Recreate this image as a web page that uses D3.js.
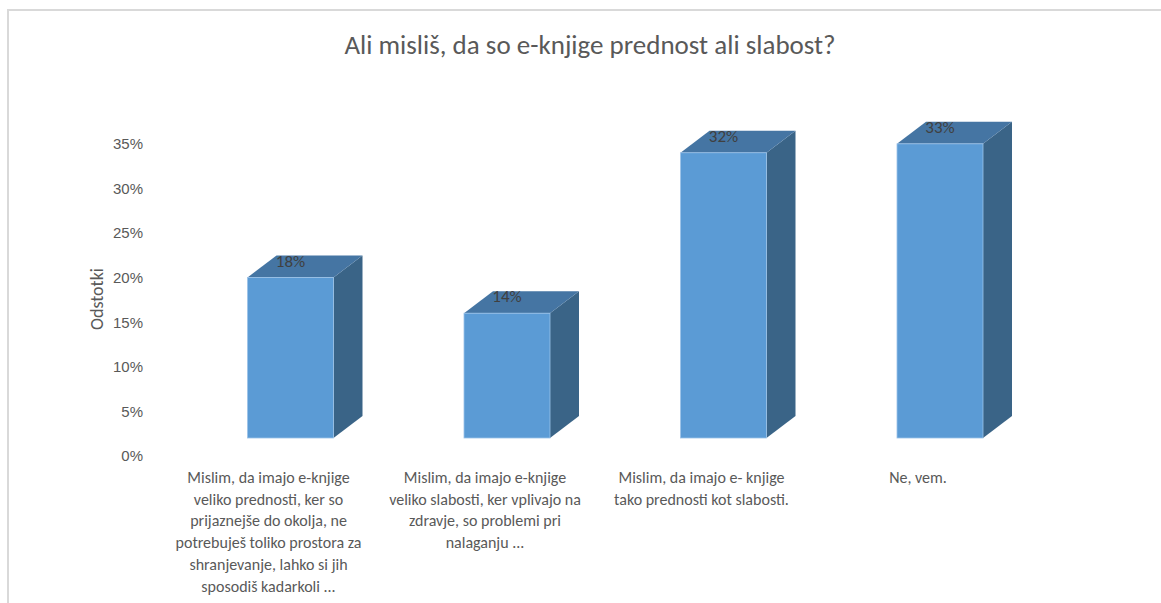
<!DOCTYPE html>
<html>
<head>
<meta charset="utf-8">
<script src="https://cdn.jsdelivr.net/npm/d3@7"></script>
<style>
  html, body { margin: 0; padding: 0; background: #fff; }
  svg { display: block; font-family: Carlito, Calibri, "Open Sans", sans-serif; }
</style>
</head>
<body>
<div id="chart"></div>
<script>
const title = 'Ali misliš, da so e-knjige prednost ali slabost?';
const yTitle = 'Odstotki';

const categories = [
  'Mislim, da imajo e-knjige veliko prednosti, ker so prijaznejše do okolja, ne potrebuješ toliko prostora za shranjevanje, lahko si jih sposodiš kadarkoli ...',
  'Mislim, da imajo e-knjige veliko slabosti, ker vplivajo na zdravje, so problemi pri nalaganju ...',
  'Mislim, da imajo e- knjige tako prednosti kot slabosti.',
  'Ne, vem.'
];
// label lines as wrapped in the picture
const categoryLines = [
  ['Mislim, da imajo e-knjige', 'veliko prednosti, ker so', 'prijaznejše do okolja, ne', 'potrebuješ toliko prostora za', 'shranjevanje, lahko si jih', 'sposodiš kadarkoli ...'],
  ['Mislim, da imajo e-knjige', 'veliko slabosti, ker vplivajo na', 'zdravje, so problemi pri', 'nalaganju ...'],
  ['Mislim, da imajo e- knjige', 'tako prednosti kot slabosti.'],
  ['Ne, vem.']
];
const values = [0.18, 0.14, 0.32, 0.33];
const yTicks = [0, 0.05, 0.10, 0.15, 0.20, 0.25, 0.30, 0.35];

const width = 1161;
const height = 603;

// 3D look
const depthX = 29, depthY = -22;   // top/side face offset
const frontShiftX = 22, frontShiftY = -18; // front face vs axis plane
const barWidth = 86;

const svg = d3.select('#chart')
  .append('svg')
  .attr('width', width)
  .attr('height', height);

// chart border
svg.append('path')
  .attr('d', `M8,${height} L8,10 L${width},10`)
  .attr('fill', 'none')
  .attr('stroke', '#d9d9d9')
  .attr('stroke-width', 2);

const x = d3.scaleBand()
  .domain(categories)
  .range([160.25, 1026.25]);

const y = d3.scaleLinear()
  .domain([0, 0.35])
  .range([456, 144]);

// title
svg.append('text')
  .attr('x', 590)
  .attr('y', 54)
  .attr('text-anchor', 'middle')
  .attr('fill', '#595959')
  .style('font-size', '27px')
  .text(title);

// y axis (labels only)
const yAxis = svg.append('g')
  .attr('transform', 'translate(147,0)')
  .call(d3.axisLeft(y).tickValues(yTicks).tickSize(0).tickPadding(4).tickFormat(d3.format('.0%')));
yAxis.select('.domain').remove();
yAxis.selectAll('text')
  .attr('fill', '#595959')
  .style('font-size', '15px')
  .style('font-family', 'inherit');

svg.append('text')
  .attr('transform', 'translate(103,299) rotate(-90)')
  .attr('text-anchor', 'middle')
  .attr('fill', '#595959')
  .style('font-size', '18px')
  .text(yTitle);

// bars
const bars = svg.append('g').attr('class', 'bars')
  .selectAll('g')
  .data(categories.map((c, i) => ({ c, v: values[i] })))
  .join('g');

function front(d) {
  const x0 = x(d.c) + x.bandwidth() / 2 + frontShiftX - barWidth / 2;
  return { x0, x1: x0 + barWidth, yTop: y(d.v) + frontShiftY, yBot: y(0) + frontShiftY };
}

// side face
bars.append('path')
  .attr('d', (d) => {
    const f = front(d);
    return `M${f.x1},${f.yTop} L${f.x1 + depthX},${f.yTop + depthY} L${f.x1 + depthX},${f.yBot + depthY} L${f.x1},${f.yBot} Z`;
  })
  .attr('fill', '#3a6487');

// top face
bars.append('path')
  .attr('d', (d) => {
    const f = front(d);
    return `M${f.x0},${f.yTop} L${f.x0 + depthX},${f.yTop + depthY} L${f.x1 + depthX},${f.yTop + depthY} L${f.x1},${f.yTop} Z`;
  })
  .attr('fill', '#4575a3');

// front face
bars.append('rect')
  .attr('x', (d) => front(d).x0)
  .attr('y', (d) => front(d).yTop)
  .attr('width', barWidth)
  .attr('height', (d) => front(d).yBot - front(d).yTop)
  .attr('fill', '#5b9bd5')
  .attr('stroke', '#9cc2e8')
  .attr('stroke-width', 0.8);

// data labels
bars.append('text')
  .attr('x', (d) => (front(d).x0 + front(d).x1) / 2)
  .attr('y', (d) => front(d).yTop + depthY + 11)
  .attr('text-anchor', 'middle')
  .attr('fill', '#404040')
  .style('font-size', '17px')
  .text((d) => d3.format('.0%')(d.v));

// category labels
const catLabels = svg.append('g').attr('class', 'cats')
  .selectAll('text')
  .data(categories)
  .join('text')
  .attr('text-anchor', 'middle')
  .attr('fill', '#595959')
  .style('font-size', '16px');

catLabels.each(function (c, i) {
  const t = d3.select(this);
  categoryLines[i].forEach((line, j) => {
    t.append('tspan')
      .attr('x', x(c) + x.bandwidth() / 2)
      .attr('y', 483 + j * 21.7)
      .text(line);
  });
});
</script>
</body>
</html>
